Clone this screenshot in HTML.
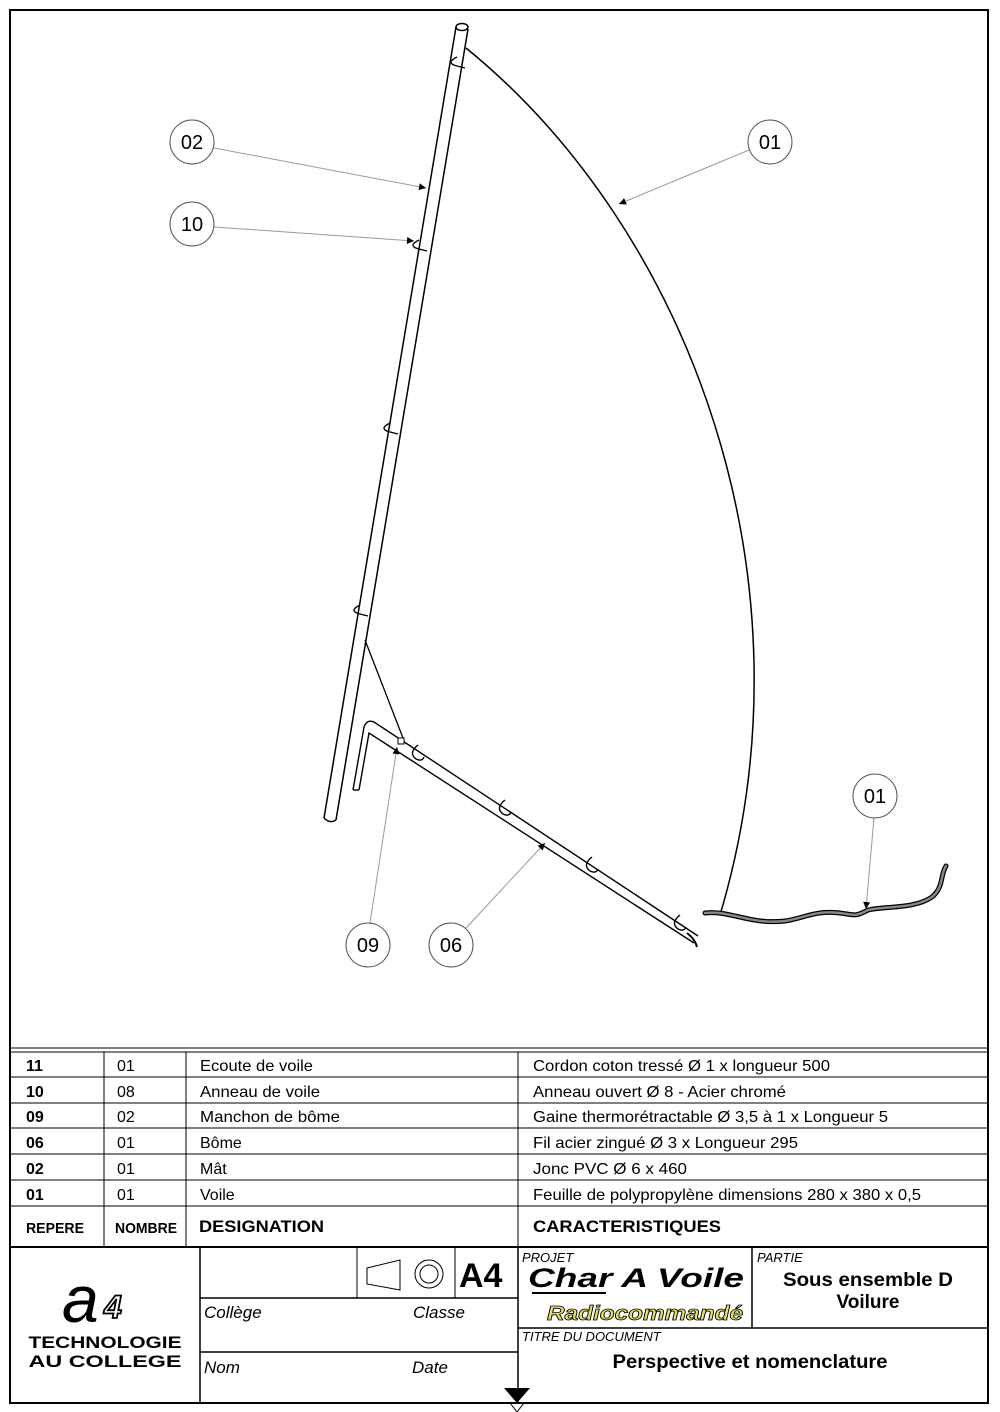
<!DOCTYPE html>
<html><head><meta charset="utf-8"><style>html,body{margin:0;padding:0;background:#fff}svg{display:block}text{font-family:"Liberation Sans",sans-serif}</style></head>
<body>
<svg width="1000" height="1412" viewBox="0 0 1000 1412" xmlns="http://www.w3.org/2000/svg">
<defs>
<marker id="ar" viewBox="0 0 10 10" refX="10" refY="5" markerWidth="9" markerHeight="7" markerUnits="userSpaceOnUse" orient="auto"><path d="M0,0L10,5L0,10z" fill="#000"/></marker>
</defs>
<rect x="10" y="10" width="978" height="1393" fill="none" stroke="#000" stroke-width="2"/>

<!-- sail -->
<path d="M466,48 C690,230 820,580 720,915" fill="none" stroke="#000" stroke-width="1.5"/>
<path d="M365,640 L403,738" fill="none" stroke="#000" stroke-width="1.3"/>
<!-- mast -->
<path d="M456,27 L324,818 M468,29 L336,820" stroke="#000" stroke-width="1.5" fill="none"/>
<ellipse cx="462" cy="27" rx="6" ry="3.5" fill="#fff" stroke="#000" stroke-width="1.5"/>
<path d="M324,818 Q330,824 336,820" stroke="#000" stroke-width="1.5" fill="none"/>
<!-- rings on mast -->
<g fill="none" stroke="#000" stroke-width="1.4">
<path d="M457,57 q-12,6 0,9 l8,2"/><path d="M419,240 q-12,6 0,9 l8,2"/><path d="M390,423 q-12,6 0,9 l8,2"/><path d="M360,605 q-12,6 0,9 l8,2"/>
</g>
<!-- boom -->
<g fill="none" stroke="#000" stroke-width="1.4">
<path d="M353,790 L364,727 Q367,719 374,722 L698,936"/>
<path d="M359,790 L369,733 L694,943"/>
<path d="M353,790 L359,790"/>
<path d="M687,933 q8,6 10,14" stroke-width="2"/>
</g>
<rect x="398" y="738" width="6" height="6" fill="#fff" stroke="#000" stroke-width="1"/>
<g fill="none" stroke="#000" stroke-width="1.4">
<path d="M418,745 q-10,8 -2,14 q6,3 8,-2"/><path d="M505,800 q-10,8 -2,14 q6,3 8,-2"/><path d="M592,857 q-10,8 -2,14 q6,3 8,-2"/><path d="M680,915 q-10,8 -2,14 q6,3 8,-2"/>
</g>
<!-- sheet rope -->
<path d="M705,913 C730,910 750,925 785,921 C805,918 815,910 840,913 C855,915 855,917 868,910 C885,906 915,909 932,897 C944,887 940,875 946,866" fill="none" stroke="#000" stroke-width="5" stroke-linecap="round"/>
<path d="M705,913 C730,910 750,925 785,921 C805,918 815,910 840,913 C855,915 855,917 868,910 C885,906 915,909 932,897 C944,887 940,875 946,866" fill="none" stroke="#888" stroke-width="2.5" stroke-linecap="round"/>

<!-- leaders -->
<g stroke="#999" stroke-width="1" fill="none">
<line x1="214" y1="148" x2="426" y2="188" marker-end="url(#ar)"/>
<line x1="214" y1="227" x2="414" y2="241" marker-end="url(#ar)"/>
<line x1="749" y1="150" x2="619" y2="204" marker-end="url(#ar)"/>
<line x1="874" y1="818" x2="866" y2="909" marker-end="url(#ar)"/>
<line x1="370" y1="923" x2="397" y2="747" marker-end="url(#ar)"/>
<line x1="466" y1="928" x2="545" y2="843" marker-end="url(#ar)"/>
</g>
<g fill="#fff" stroke="#555" stroke-width="1">
<circle cx="192" cy="142" r="22"/><circle cx="192" cy="224" r="22"/><circle cx="770" cy="142" r="22"/><circle cx="875" cy="796" r="22"/><circle cx="368" cy="945" r="22"/><circle cx="451" cy="945" r="22"/>
</g>
<g font-size="20" text-anchor="middle" fill="#000">
<text x="192" y="149">02</text><text x="192" y="231">10</text><text x="770" y="149">01</text><text x="875" y="803">01</text><text x="368" y="952">09</text><text x="451" y="952">06</text>
</g>

<!-- table -->
<g stroke="#000" fill="none">
<line x1="10" y1="1048" x2="988" y2="1048" stroke-width="1"/>
<line x1="10" y1="1052" x2="988" y2="1052" stroke-width="1"/>
<line x1="10" y1="1077" x2="988" y2="1077" stroke-width="1"/>
<line x1="10" y1="1103" x2="988" y2="1103" stroke-width="1"/>
<line x1="10" y1="1128" x2="988" y2="1128" stroke-width="1"/>
<line x1="10" y1="1154" x2="988" y2="1154" stroke-width="1"/>
<line x1="10" y1="1180" x2="988" y2="1180" stroke-width="1"/>
<line x1="10" y1="1206" x2="988" y2="1206" stroke-width="1"/>
<line x1="10" y1="1247" x2="988" y2="1247" stroke-width="2"/>
<line x1="104" y1="1052" x2="104" y2="1247"/>
<line x1="186" y1="1052" x2="186" y2="1247"/>
<line x1="518" y1="1052" x2="518" y2="1247"/>
</g>
<g font-size="16" fill="#000">
<g font-weight="bold">
<text x="26" y="1071">11</text><text x="26" y="1097">10</text><text x="26" y="1122">09</text><text x="26" y="1148">06</text><text x="26" y="1174">02</text><text x="26" y="1200">01</text>
</g>
<text x="117" y="1071">01</text><text x="117" y="1097">08</text><text x="117" y="1122">02</text><text x="117" y="1148">01</text><text x="117" y="1174">01</text><text x="117" y="1200">01</text>
<text x="200" y="1071" textLength="113" lengthAdjust="spacingAndGlyphs">Ecoute de voile</text>
<text x="200" y="1097" textLength="120" lengthAdjust="spacingAndGlyphs">Anneau de voile</text>
<text x="200" y="1122" textLength="140" lengthAdjust="spacingAndGlyphs">Manchon de bôme</text>
<text x="200" y="1148">Bôme</text>
<text x="200" y="1174">Mât</text>
<text x="200" y="1200">Voile</text>
<text x="533" y="1071" textLength="297" lengthAdjust="spacingAndGlyphs">Cordon coton tressé Ø 1 x longueur 500</text>
<text x="533" y="1097" textLength="253" lengthAdjust="spacingAndGlyphs">Anneau ouvert Ø 8 - Acier chromé</text>
<text x="533" y="1122" textLength="355" lengthAdjust="spacingAndGlyphs">Gaine thermorétractable Ø 3,5 à 1 x Longueur 5</text>
<text x="533" y="1148" textLength="265" lengthAdjust="spacingAndGlyphs">Fil acier zingué Ø 3 x Longueur 295</text>
<text x="533" y="1174" textLength="154" lengthAdjust="spacingAndGlyphs">Jonc PVC Ø 6 x 460</text>
<text x="533" y="1200" textLength="388" lengthAdjust="spacingAndGlyphs">Feuille de polypropylène dimensions 280 x 380 x 0,5</text>
<g font-weight="bold">
<text x="26" y="1233" font-size="15" textLength="58" lengthAdjust="spacingAndGlyphs">REPERE</text>
<text x="115" y="1233" font-size="15" textLength="62" lengthAdjust="spacingAndGlyphs">NOMBRE</text>
<text x="199" y="1232" font-size="17" textLength="125" lengthAdjust="spacingAndGlyphs">DESIGNATION</text>
<text x="533" y="1232" font-size="17" textLength="188" lengthAdjust="spacingAndGlyphs">CARACTERISTIQUES</text>
</g>
</g>

<!-- title block -->
<g stroke="#000" fill="none">
<line x1="200" y1="1247" x2="200" y2="1403" stroke-width="1.5"/>
<line x1="518" y1="1247" x2="518" y2="1403" stroke-width="1.5"/>
<line x1="200" y1="1298" x2="518" y2="1298" stroke-width="1.5"/>
<line x1="200" y1="1352" x2="518" y2="1352" stroke-width="1.5"/>
<line x1="357" y1="1247" x2="357" y2="1298"/>
<line x1="455" y1="1247" x2="455" y2="1298"/>
<line x1="752" y1="1247" x2="752" y2="1328" stroke-width="1.5"/>
<line x1="518" y1="1328" x2="988" y2="1328" stroke-width="1.5"/>
<path d="M367,1268 L400,1260 L400,1290 L367,1284 Z"/>
<circle cx="429" cy="1274" r="14"/><circle cx="429" cy="1274" r="9"/>
</g>
<text x="459" y="1287" font-size="34" font-weight="bold">A4</text>
<g font-size="17" font-style="italic" fill="#000">
<text x="204" y="1318">Collège</text><text x="413" y="1318">Classe</text>
<text x="204" y="1373">Nom</text><text x="412" y="1373">Date</text>
</g>
<path d="M504,1388 L530,1388 L517,1403 Z" fill="#000"/>
<path d="M510,1403 L517,1412 L524,1403" fill="none" stroke="#000"/>
<g font-size="13" font-style="italic">
<text x="522" y="1262">PROJET</text><text x="757" y="1262">PARTIE</text><text x="522" y="1341">TITRE DU DOCUMENT</text>
</g>
<text x="528" y="1287" font-family="'DejaVu Sans',sans-serif" font-size="27" font-weight="bold" font-style="italic" textLength="216" lengthAdjust="spacingAndGlyphs">Char A Voile</text>
<line x1="532" y1="1293" x2="606" y2="1293" stroke="#000" stroke-width="2"/>
<text x="547" y="1320" font-family="'Liberation Serif',serif" font-size="20" font-weight="bold" font-style="italic" fill="#e8e060" stroke="#000" stroke-width="0.8" textLength="196" lengthAdjust="spacingAndGlyphs">Radiocommandé</text>
<g font-size="19" font-weight="bold" text-anchor="middle">
<text x="868" y="1286" textLength="170" lengthAdjust="spacingAndGlyphs">Sous ensemble D</text>
<text x="868" y="1308">Voilure</text>
<text x="750" y="1368" textLength="275" lengthAdjust="spacingAndGlyphs">Perspective et nomenclature</text>
</g>
<!-- logo -->
<text x="62" y="1322" font-family="'Liberation Serif',serif" font-size="66" font-style="italic" fill="#000">a</text>
<text x="104" y="1318" font-size="32" font-weight="bold" font-style="italic" fill="#fff" stroke="#000" stroke-width="1.8">4</text>
<g font-size="17" font-weight="bold" text-anchor="middle">
<text x="105" y="1348" textLength="153" lengthAdjust="spacingAndGlyphs">TECHNOLOGIE</text>
<text x="105" y="1367" textLength="153" lengthAdjust="spacingAndGlyphs">AU COLLEGE</text>
</g>
</svg>
</body></html>
